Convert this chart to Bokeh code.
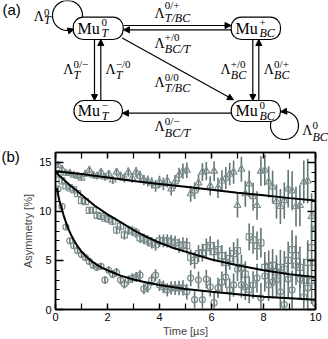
import numpy as np
from bokeh.plotting import figure
from bokeh.models import (Range1d, LinearAxis, FixedTicker, Arrow, NormalHead, Label,
                          ColumnDataSource, CustomJSTickFormatter)
from bokeh.layouts import column
from bokeh.core.properties import value
from bokeh.embed import file_html
from bokeh.resources import INLINE

# ---------------- data for panel (b) ----------------
time_us = [0.10, 0.25, 0.40, 0.55, 0.70, 0.85, 1.00, 1.15, 1.30, 1.45,
           1.60, 1.75, 1.90, 2.05, 2.20, 2.35, 2.50, 2.65, 2.80, 2.95,
           3.10, 3.25, 3.40, 3.55, 3.70, 3.85, 4.00, 4.15, 4.30, 4.45,
           4.60, 4.75, 4.90, 5.05, 5.20, 5.35, 5.50, 5.65, 5.80, 5.95,
           6.10, 6.25, 6.40, 6.55, 6.70, 6.85, 7.00, 7.15, 7.30, 7.45,
           7.60, 7.75, 7.90, 8.05, 8.20, 8.35, 8.50, 8.65, 8.80, 8.95,
           9.10, 9.25, 9.40, 9.55, 9.70, 9.85, 10.00]

asym_triangle = [14.7, 14.3, 13.9, 13.9, 13.7, 13.6, 13.4, 13.8, 14.2, 13.7,
                 13.6, 14.0, 13.5, 13.8, 13.2, 14.0, 13.6, 13.4, 14.0, 13.4,
                 14.0, 13.6, 13.2, 13.1, 12.9, 12.6, 13.0, 12.8, 13.1, 12.3,
                 13.0, 13.7, 14.1, 14.2, 11.8, 12.1, 12.9, 14.0, 14.1, 12.6,
                 14.1, 12.4, 13.1, 13.4, 13.8, 14.0, 10.6, 14.3, 11.8, 12.8,
                 11.5, 10.6, 14.1, 14.2, 13.0, 12.5, 11.0, 10.5, 11.1, 12.3,
                 12.1, 10.5, 10.6, 13.0, 13.1, 9.5, 8.3]

asym_square = [13.8, 13.1, 12.6, 12.4, 12.2, 11.8, 11.1, 11.0, 10.1, 10.1,
               9.6, 9.5, 9.3, 9.2, 9.0, 8.1, 8.5, 7.6, 8.1, 8.0,
               7.8, 7.3, 7.2, 7.0, 6.8, 6.6, 7.0, 7.0, 7.0, 6.9,
               6.8, 6.5, 6.6, 6.5, 5.3, 5.0, 5.7, 5.8, 6.3, 6.5,
               5.9, 6.1, 5.5, 4.8, 5.2, 5.7, 6.0, 4.3, 3.6, 7.4,
               7.1, 6.5, 6.8, 4.3, 4.4, 4.5, 3.8, 4.3, 4.1, 5.0,
               6.1, 5.5, 4.3, 3.0, 4.8, 6.3, 4.8]

asym_circle = [12.3, 10.5, 8.4, 7.0, 6.5, 6.0, 5.6, 5.3, 4.9, 4.5,
               4.3, 4.4, 3.0, 4.0, 3.6, 3.8, 3.0, 2.6, 3.0, 3.2,
               3.3, 3.5, 2.1, 2.3, 3.0, 3.5, 2.5, 2.3, 2.0, 2.2,
               2.2, 2.2, 2.2, 1.8, 3.2, 1.0, 3.0, 1.0, 3.1, 2.3,
               0.7, 2.2, 2.8, 3.3, 2.0, 2.5, 4.1, 2.5, 2.3, 2.0,
               2.5, 3.2, 1.2, 3.4, 2.5, 2.8, 3.0, 1.8, 0.5, 3.1,
               2.0, 4.5, 3.1, 1.3, 2.2, 2.9, 0.6]

asym_error = [0.25, 0.26, 0.27, 0.28, 0.29, 0.30, 0.31, 0.32, 0.34, 0.35,
              0.36, 0.37, 0.39, 0.40, 0.41, 0.43, 0.44, 0.46, 0.47, 0.49,
              0.51, 0.53, 0.54, 0.56, 0.58, 0.60, 0.62, 0.65, 0.67, 0.69,
              0.71, 0.74, 0.77, 0.79, 0.82, 0.85, 0.88, 0.91, 0.94, 0.97,
              1.00, 1.04, 1.08, 1.11, 1.15, 1.19, 1.23, 1.27, 1.32, 1.36,
              1.41, 1.46, 1.51, 1.56, 1.61, 1.67, 1.73, 1.79, 1.85, 1.91,
              1.98, 2.04, 2.11, 2.19, 2.26, 2.34, 2.42]

fit_tri_t = [0, 1, 2, 3, 4, 5, 6, 7, 8, 9, 10]
fit_tri_y = [14.1, 13.8, 13.45, 13.1, 12.8, 12.5, 12.2, 11.9, 11.65, 11.35, 11.1]

fit_sq_t = [0, 0.25, 0.5, 0.75, 1, 1.5, 2, 2.5, 3, 3.5, 4, 4.5, 5, 6, 7, 8, 9, 10]
fit_sq_y = [14.0, 13.4, 12.8, 12.25, 11.7, 10.6, 9.7, 8.9, 8.1, 7.4, 6.8, 6.3, 5.9, 5.1, 4.5, 4.0, 3.6, 3.3]

fit_ci_t = [0.05, 0.1, 0.15, 0.2, 0.3, 0.4, 0.5, 0.6, 0.7, 0.8, 0.9, 1.0, 1.2, 1.4, 1.6, 1.8,
            2.0, 2.5, 3.0, 3.5, 4.0, 4.5, 5.0, 6.0, 7.0, 8.0, 9.0, 10.0]
fit_ci_y = [12.4, 11.7, 11.1, 10.6, 9.7, 8.9, 8.2, 7.6, 7.1, 6.65, 6.25, 5.9, 5.35, 4.9, 4.55, 4.25,
            4.0, 3.45, 3.05, 2.75, 2.5, 2.3, 2.1, 1.8, 1.55, 1.3, 1.15, 1.0]

x_major_ticks = [0, 2, 4, 6, 8, 10]
x_minor_ticks = [1, 3, 5, 7, 9]
y_major_ticks = [0, 5, 10, 15]
y_minor_ticks = [1, 2, 3, 4, 6, 7, 8, 9, 11, 12, 13, 14, 16]

# ---------------- texts for panel (a) ----------------
state_base = ["Mu", "Mu", "Mu", "Mu"]
state_sup = ["0", "+", "\u2212", "0"]
state_sub = ["T", "BC", "T", "BC"]
rate_sup = ["0", "0/+", "+/0", "0/\u2212", "\u2212/0", "0/0", "+/0", "0/+", "0/\u2212", "0"]
rate_sub = ["T", "T/BC", "BC/T", "T", "T", "T/BC", "BC", "BC", "BC/T", "BC"]
panel_labels = ["(a)", "(b)"]

SERIF = "Liberation Serif"
SANS = "Liberation Sans"

# ---------------- panel (a): diagram (also carries the "(b)" tag) ----------------
d = figure(width=328, height=165, x_range=Range1d(0, 328), y_range=Range1d(165, 0),
           output_backend="svg", toolbar_location=None, min_border=0,
           x_axis_location=None, y_axis_location=None)
d.frame_align = False
d.margin = (0, 0, -20, 0)
d.xgrid.visible = False
d.ygrid.visible = False
d.outline_line_color = None

box_l = [72.7, 230.7, 73.5, 230.7]
box_r = [122.7, 280.0, 122.0, 280.0]
box_t = [16.7, 16.7, 100.0, 100.0]
box_b = [39.0, 39.0, 121.0, 121.0]
d.quad(left=box_l, right=box_r, top=box_t, bottom=box_b, fill_color="white",
       line_color="black", line_width=1.2, border_radius=10)

mu_x = [77.0, 235.0, 77.3, 235.0]
mu_y = [27.5, 27.5, 110.3, 110.3]
d.text(x=mu_x, y=mu_y, text=state_base, text_font=value(SERIF), text_font_size="16px",
       text_baseline="middle", text_align="left", text_color="black")
d.text(x=[x + 24.0 for x in mu_x], y=[y - 5.5 for y in mu_y], text=state_sup,
       text_font=value(SERIF), text_font_size="11px", text_baseline="middle", text_align="left")
d.text(x=[x + 24.0 for x in mu_x], y=[y + 5.0 for y in mu_y], text=state_sub,
       text_font=value(SERIF), text_font_style="italic", text_font_size="12px",
       text_baseline="middle", text_align="left")

lam_x = [33.3, 154.0, 154.0, 62.7, 105.0, 154.0, 220.0, 263.3, 154.0, 301.7]
lam_y = [15.5, 12.5, 43.0, 69.0, 69.0, 82.0, 69.0, 69.0, 126.0, 130.0]
sup_y = [12.0, 4.5, 36.0, 63.0, 63.0, 76.0, 63.0, 63.0, 120.5, 125.0]
sub_y = [19.5, 17.0, 48.0, 74.5, 74.5, 87.5, 74.5, 74.5, 132.0, 136.0]
d.text(x=lam_x, y=lam_y, text=["\u039b"] * len(lam_x), text_font=value(SERIF),
       text_font_size="14px", text_baseline="middle", text_align="left")
d.text(x=[x + 10.3 for x in lam_x], y=sup_y, text=rate_sup, text_font=value(SERIF),
       text_font_size="11px", text_baseline="middle", text_align="left")
d.text(x=[x + 10.3 for x in lam_x], y=sub_y, text=rate_sub, text_font=value(SERIF),
       text_font_style="italic", text_font_size="12px", text_baseline="middle", text_align="left")

arrows = [(123, 25, 230.5, 25), (230.5, 29.3, 123, 29.3),
          (94, 39, 94, 100), (100.3, 100, 100.3, 39),
          (252.3, 39, 252.3, 100), (258.3, 100, 258.3, 39),
          (121.7, 37.5, 233, 99.3), (230.5, 112.7, 122, 112.7)]
for xs, ys, xe, ye in arrows:
    d.add_layout(Arrow(end=NormalHead(size=6, fill_color="black", line_color="black", line_width=1),
                       x_start=xs, y_start=ys, x_end=xe, y_end=ye,
                       line_color="black", line_width=1.2))

# self loops
th1 = np.radians(np.linspace(-6, 285, 80))
d.line(67 + 15 * np.cos(th1), 15 - 15 * np.sin(th1), line_color="black", line_width=1.2)
e1 = np.radians(285)
d.add_layout(Arrow(end=NormalHead(size=6, fill_color="black", line_color="black", line_width=1),
                   x_start=67 + 15 * np.cos(e1), y_start=15 - 15 * np.sin(e1),
                   x_end=67 + 15 * np.cos(e1) + 2.6 * (-np.sin(e1)),
                   y_end=15 - 15 * np.sin(e1) + 2.6 * (-np.cos(e1)),
                   line_color="black", line_width=1.2))
th2 = np.radians(np.linspace(163, 455, 80))
d.line(284 + 14 * np.cos(th2), 125 - 14 * np.sin(th2), line_color="black", line_width=1.2)
e2 = np.radians(455)
d.add_layout(Arrow(end=NormalHead(size=6, fill_color="black", line_color="black", line_width=1),
                   x_start=284 + 14 * np.cos(e2), y_start=125 - 14 * np.sin(e2),
                   x_end=284 + 14 * np.cos(e2) + 2.6 * (-np.sin(e2)),
                   y_end=125 - 14 * np.sin(e2) + 2.6 * (-np.cos(e2)),
                   line_color="black", line_width=1.2))

d.text(x=[2, 1], y=[8.5, 155.5], text=panel_labels, text_font=value(SANS), text_font_size="15px",
       text_baseline="middle", text_align="left", text_color="black")

# ---------------- panel (b): plot ----------------
p = figure(width=328, height=194, x_range=Range1d(0, 10), y_range=Range1d(0, 16),
           output_backend="svg", toolbar_location=None,
           min_border_left=55, min_border_right=13, min_border_top=7, min_border_bottom=26)
p.frame_align = False
p.border_fill_color = None
p.background_fill_color = "white"
p.xgrid.visible = False
p.ygrid.visible = False
p.outline_line_color = "black"
p.outline_line_width = 1.5

ERR = "#627676"
MK = "#7d8d8d"

series = [(asym_triangle, "triangle", 7), (asym_square, "square", 6), (asym_circle, "circle", 6)]
for vals, mk, sz in series:
    src = ColumnDataSource(dict(t=time_us, y=vals,
                                lo=[v - e for v, e in zip(vals, asym_error)],
                                hi=[v + e for v, e in zip(vals, asym_error)]))
    p.segment(x0="t", y0="lo", x1="t", y1="hi", source=src, line_color=ERR, line_width=1.6)
    p.scatter(x="t", y="y", source=src, marker=mk, size=sz, fill_color=None,
              line_color=MK, line_width=1.2)

p.line(fit_tri_t, fit_tri_y, line_color="black", line_width=2)
p.line(fit_sq_t, fit_sq_y, line_color="black", line_width=2)
p.line(fit_ci_t, fit_ci_y, line_color="black", line_width=2)


def style_axis(ax, major_in, minor_in):
    ax.major_tick_in = major_in
    ax.major_tick_out = 0
    ax.minor_tick_in = minor_in
    ax.minor_tick_out = 0
    ax.axis_line_color = "black"
    ax.axis_line_width = 1.5
    ax.major_tick_line_width = 1.5
    ax.minor_tick_line_width = 1.2
    ax.major_label_text_font = SANS
    ax.major_label_text_font_size = "11px"
    ax.major_label_text_color = "black"
    ax.axis_label_text_font = SANS
    ax.axis_label_text_font_size = "11px"
    ax.axis_label_text_font_style = "normal"


xa = p.xaxis[0]
xa.ticker = FixedTicker(ticks=x_major_ticks, minor_ticks=x_minor_ticks)
style_axis(xa, 6, 6)
xa.axis_label = "Time [\u00b5s]"
xa.major_label_standoff = 3
xa.axis_label_standoff = 1

ya = p.yaxis[0]
ya.ticker = FixedTicker(ticks=y_major_ticks, minor_ticks=y_minor_ticks)
style_axis(ya, 8, 4)
ya.axis_label = "Asymmetry [%]"
ya.major_label_standoff = 4
ya.axis_label_standoff = 2

blank = CustomJSTickFormatter(code="return ''")
top = LinearAxis(ticker=FixedTicker(ticks=x_major_ticks, minor_ticks=x_minor_ticks), formatter=blank)
style_axis(top, 6, 6)
top.major_label_standoff = 0
p.add_layout(top, "above")
right = LinearAxis(ticker=FixedTicker(ticks=y_major_ticks, minor_ticks=y_minor_ticks), formatter=blank)
style_axis(right, 8, 4)
right.major_label_standoff = 0
p.add_layout(right, "right")

layout = column(d, p, spacing=0)
open("out.html", "w").write(file_html(layout, INLINE))
